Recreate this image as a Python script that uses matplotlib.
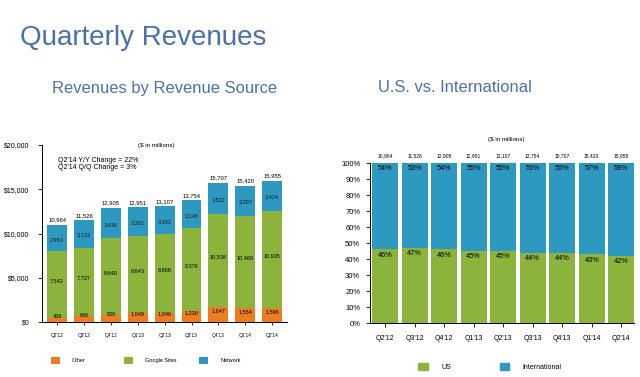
import numpy as np
import matplotlib.pyplot as plt
from matplotlib.patches import Patch
from matplotlib.legend import Legend

plt.rcParams['font.family'] = ['Liberation Sans', 'DejaVu Sans']

quarters = ["Q2'12", "Q3'12", "Q4'12", "Q1'13", "Q2'13", "Q3'13", "Q4'13", "Q1'14", "Q2'14"]
other = [439, 666, 829, 1049, 1046, 1230, 1647, 1554, 1596]
google_sites = [7542, 7727, 8640, 8643, 8868, 9376, 10538, 10469, 10935]
network = [2983, 3133, 3436, 3262, 3193, 3148, 3522, 3397, 3424]
totals = [10964, 11526, 12905, 12951, 13107, 13754, 15707, 15420, 15955]
us_pct = [46, 47, 46, 45, 45, 44, 44, 43, 42]
intl_pct = [54, 53, 54, 55, 55, 56, 56, 57, 58]

orange = "#EE7D1F"
green = "#8CB43C"
blue = "#2E99C0"
title_col = "#4C70A8"

fig = plt.figure(figsize=(6.4, 3.77), dpi=100)
W, H = 640, 377

def box(x0, y0, x1, y1):
    return [x0 / W, 1 - y1 / H, (x1 - x0) / W, (y1 - y0) / H]

fig.text(20 / W, 1 - 38 / H, "Quarterly Revenues", color=title_col, fontsize=20, va="center")
fig.text(52 / W, 1 - 88 / H, "Revenues by Revenue Source", color=title_col, fontsize=11.9, va="center")
fig.text(378 / W, 1 - 88 / H, "U.S. vs. International", color=title_col, fontsize=11.9, va="center")

# left chart
ax = fig.add_axes(box(42, 145, 287, 322))
x = np.arange(len(quarters))
w = 0.74
o = np.array(other)
g = np.array(google_sites)
n = np.array(network)
ax.bar(x, o, w, color=orange)
ax.bar(x, g, w, bottom=o, color=green)
ax.bar(x, n, w, bottom=o + g, color=blue)
for i in range(len(x)):
    ax.text(x[i], o[i] / 2 + 400, f"{other[i]:,}", ha="center", va="center", fontsize=4)
    ax.text(x[i], o[i] + g[i] / 2 + 450, f"{google_sites[i]:,}", ha="center", va="center", fontsize=4)
    ax.text(x[i], o[i] + g[i] + n[i] / 2 - 150, f"{network[i]:,}", ha="center", va="center", fontsize=4, color="#1a1a1a")
    ax.text(x[i], totals[i] + 250, f"{totals[i]:,}", ha="center", va="bottom", fontsize=4.2)
ax.set_xlim(-0.56, 8.55)
ax.set_ylim(0, 20000)
ax.set_yticks([0, 5000, 10000, 15000, 20000])
ax.set_yticklabels(["$0", "$5,000", "$10,000", "$15,000", "$20,000"])
ax.set_xticks(x)
ax.set_xticklabels(quarters)
ax.tick_params(axis="y", labelsize=5, length=3, width=0.6, pad=6)
ax.tick_params(axis="x", labelsize=3.4, length=2, width=0.6, pad=6)
for s in ["top", "right"]:
    ax.spines[s].set_visible(False)
ax.spines["left"].set_linewidth(0.7)
ax.spines["bottom"].set_linewidth(0.7)
ax.text(3.7, 20000, "($ in millions)", ha="center", va="center", fontsize=4.5)
ax.text(0.05, 17900, "Q2'14 Y/Y Change = 22%\nQ2'14 Q/Q Change = 3%", ha="left", va="center",
        fontsize=5, linespacing=1.0)

# one legend per entry so the spacing follows the original
legend_items = [(orange, "Other", 0.016), (green, "Google Sites", 0.314), (blue, "Network", 0.62)]
for col, lab, xa in legend_items:
    leg = Legend(ax, [Patch(facecolor=col, edgecolor="none")], [lab], loc="upper left",
                 bbox_to_anchor=(xa, -0.17), frameon=False, fontsize=4,
                 handlelength=1.6, handleheight=1.6, handletextpad=2.2)
    ax.add_artist(leg)

# right chart
ax2 = fig.add_axes(box(370, 163, 634, 323))
x2 = np.arange(len(quarters))
w2 = 0.88
us = np.array(us_pct)
intl = np.array(intl_pct)
ax2.bar(x2, us, w2, color=green)
ax2.bar(x2, intl, w2, bottom=us, color=blue)
for i in range(len(x2)):
    ax2.text(x2[i], us[i] - 1.5, f"{us_pct[i]}%", ha="center", va="top", fontsize=5.3)
    ax2.text(x2[i], 98.5, f"{intl_pct[i]}%", ha="center", va="top", fontsize=5.3)
    ax2.text(x2[i], 103, f"{totals[i]:,}", ha="center", va="bottom", fontsize=3.6)
ax2.set_xlim(-0.51, 8.43)
ax2.set_ylim(0, 100)
ax2.set_yticks(np.arange(0, 101, 10))
ax2.set_yticklabels([f"{v}%" for v in range(0, 101, 10)])
ax2.set_xticks(x2)
ax2.set_xticklabels(quarters)
ax2.tick_params(axis="y", labelsize=5.5, length=3, width=0.6, pad=4)
ax2.tick_params(axis="x", labelsize=5, length=3, width=0.6, pad=6)
for s in ["top", "right"]:
    ax2.spines[s].set_visible(False)
ax2.spines["left"].set_linewidth(0.7)
ax2.spines["bottom"].set_linewidth(0.7)
ax2.text(4.1, 115, "($ in millions)", ha="center", va="center", fontsize=4.5)
ax2.legend(handles=[Patch(color=green, label="US"), Patch(color=blue, label="International")],
           loc="upper left", bbox_to_anchor=(0.16, -0.21), ncol=2, frameon=False, fontsize=5,
           handlelength=1.3, handleheight=1.3, handletextpad=2.0, columnspacing=7.0)

fig.savefig("out.png", dpi=100)
